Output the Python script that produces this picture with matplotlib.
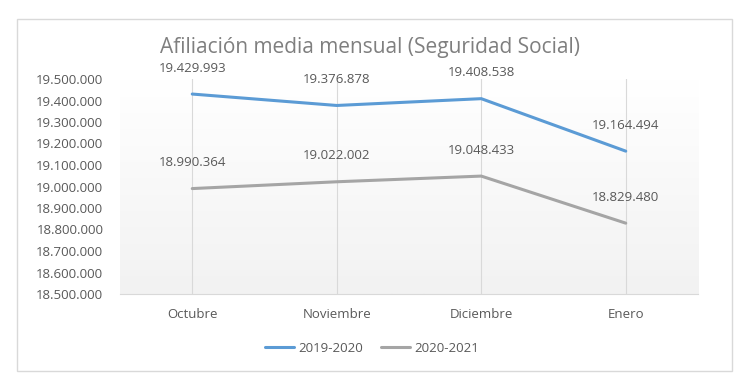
import matplotlib.pyplot as plt
import numpy as np
from matplotlib.patches import Rectangle

meses = ['Octubre', 'Noviembre', 'Diciembre', 'Enero']
serie_2019 = [19429993, 19376878, 19408538, 19164494]
serie_2020 = [18990364, 19022002, 19048433, 18829480]
nombres = ['2019-2020', '2020-2021']
colores = ['#5B9BD5', '#A5A5A5']
y_ticks = list(range(18500000, 19500001, 100000))

plt.rcParams['font.family'] = ['Open Sans', 'DejaVu Sans']
txt = '#595959'

def miles(v):
    return f'{v:,}'.replace(',', '.')

fig = plt.figure(figsize=(7.5, 3.92), dpi=100)
fig.patches.append(Rectangle((17 / 750, 1 - 371 / 392), 715 / 750, 352 / 392,
                             transform=fig.transFigure, fill=False,
                             edgecolor='#d9d9d9', linewidth=1))

ax = fig.add_axes([120 / 750, 1 - 294 / 392, 578 / 750, 215 / 392])
x = np.arange(len(meses))
ax.set_xlim(-0.5, len(meses) - 0.5)
ax.set_ylim(18500000, 19500000)

# degradado del fondo
grad = np.linspace(0, 1, 100).reshape(-1, 1)
ax.imshow(grad, extent=[-0.5, len(meses) - 0.5, 18500000, 19500000],
          aspect='auto', cmap=plt.matplotlib.colors.LinearSegmentedColormap.from_list(
              'g', ['#f2f2f2', '#ffffff']), origin='lower', zorder=0)

for xi in x:
    ax.axvline(xi, color='#d9d9d9', linewidth=0.8, zorder=1)

for vals, nom, c in zip([serie_2019, serie_2020], nombres, colores):
    ax.plot(x, vals, color=c, linewidth=2.2, label=nom, zorder=3,
            solid_capstyle='round')
    for xi, v in zip(x, vals):
        ax.annotate(miles(v), (xi, v), xytext=(0, 14), textcoords='offset points',
                    ha='center', va='bottom', fontsize=9.5, color=txt)

for s in ['top', 'right', 'left']:
    ax.spines[s].set_visible(False)
ax.spines['bottom'].set_color('#d9d9d9')
ax.set_xticks(x)
ax.set_xticklabels(meses)
ax.set_yticks(y_ticks)
ax.set_yticklabels([miles(v) for v in y_ticks])
ax.tick_params(axis='both', length=0, labelsize=9.5, labelcolor=txt)
ax.tick_params(axis='x', pad=10)
ax.tick_params(axis='y', pad=12)

fig.text(370 / 750, 1 - 47 / 392, 'Afiliación media mensual (Seguridad Social)',
         ha='center', va='center', fontsize=15, color='#7f7f7f')

fig.legend(loc='center', bbox_to_anchor=(372 / 750, 1 - 348 / 392), ncol=2,
           frameon=False, fontsize=9.5, labelcolor=txt, handlelength=2.2,
           handletextpad=0.3, columnspacing=1.4)

fig.savefig('out.png', dpi=100)
